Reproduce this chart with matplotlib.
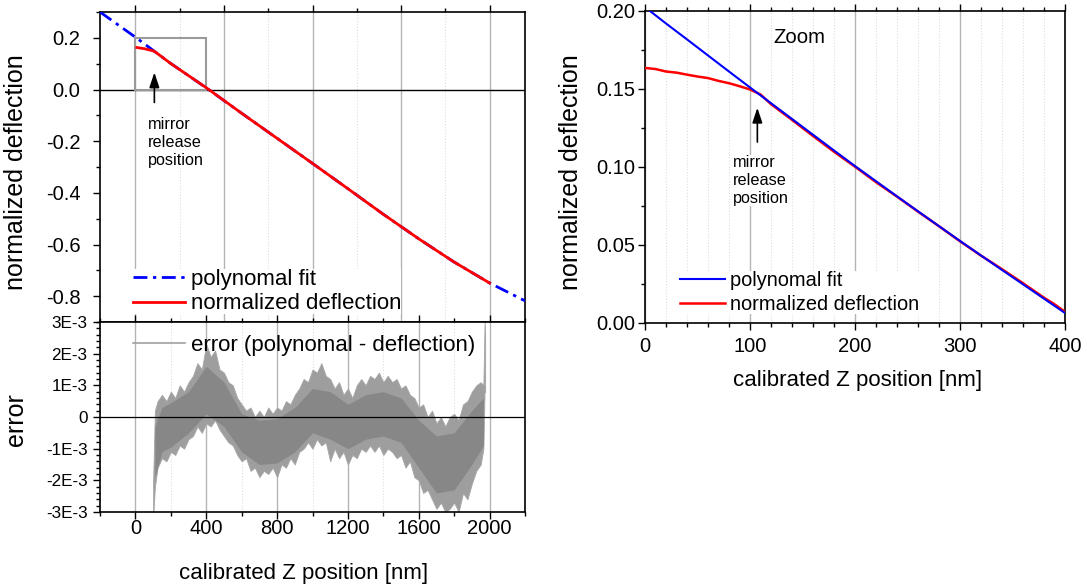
import numpy as np
import matplotlib
matplotlib.use("Agg")
import matplotlib.pyplot as plt
from matplotlib.patches import Rectangle
from matplotlib.ticker import MultipleLocator

plt.rcParams["font.family"] = ["Liberation Sans", "DejaVu Sans"]
plt.rcParams["axes.unicode_minus"] = False

# Data #######################################################################

# full range: polynomial fit and measured deflection
fit_x = [-200, 0, 200, 400, 600, 800, 1000, 1200, 1400, 1600, 1800, 2000, 2200]
fit_y = [0.300, 0.2025, 0.1006, 0.0064, -0.092, -0.189, -0.286, -0.384,
         -0.483, -0.578, -0.668, -0.749, -0.818]
defl_x = [8, 50, 100, 110, 200, 400, 600, 800, 1000, 1200, 1400, 1600, 1800, 2000]
defl_y = [0.1625, 0.158, 0.1495, 0.1465, 0.1003, 0.0070, -0.092, -0.189,
          -0.286, -0.384, -0.483, -0.578, -0.668, -0.749]

# error band (polynomal - deflection), units of 1E-3
err_x = [100, 110, 125, 150, 175, 200, 225, 250, 275, 300, 325, 350, 375, 400,
         425, 450, 475, 500, 525, 550, 575, 600, 625, 650, 675, 700, 725, 750,
         775, 800, 825, 850, 875, 900, 925, 950, 975, 1000, 1025, 1050, 1075,
         1100, 1125, 1150, 1175, 1200, 1225, 1250, 1275, 1300, 1325, 1350,
         1375, 1400, 1425, 1450, 1475, 1500, 1525, 1550, 1575, 1600, 1625,
         1650, 1675, 1700, 1725, 1750, 1775, 1800, 1825, 1850, 1875, 1900,
         1925, 1950, 1965, 1972, 1975]
err_hi = [-2.0, 0.2, 0.5, 0.7, 0.5, 0.8, 0.6, 1.0, 0.8, 1.1, 1.3, 1.7, 1.5, 2.3,
          1.9, 2.1, 1.5, 1.4, 1.1, 1.0, 0.6, 0.4, 0.2, 0.3, 0.0, 0.2, 0.0, 0.3,
          0.1, 0.3, 0.2, 0.5, 0.4, 0.7, 0.9, 1.2, 1.1, 1.5, 1.4, 1.7, 1.3,
          1.2, 0.9, 1.1, 0.7, 0.9, 0.6, 1.0, 1.2, 1.0, 1.3, 1.2,
          1.4, 1.1, 1.3, 1.1, 1.2, 0.9, 1.0, 0.7, 0.6, 0.3, 0.4,
          0.0, 0.2, -0.2, 0.0, -0.3, 0.0, 0.1, -0.1, 0.4, 0.5, 0.8,
          1.0, 1.1, 1.0, 3.1, 2.5]
err_lo = [-3.2, -2.2, -1.6, -1.3, -1.4, -1.1, -1.2, -0.9, -1.0, -0.7, -0.6, -0.3,
          -0.5, -0.2, -0.3, -0.1, -0.4, -0.6, -0.8, -0.9, -1.2, -1.4, -1.3, -1.7,
          -1.6, -1.9, -1.7, -1.8, -1.6, -1.9, -1.5, -1.6, -1.3, -1.5, -1.1, -1.0,
          -0.8, -1.0, -0.7, -0.9, -0.8, -1.4, -1.0, -1.3, -1.1, -1.5, -1.2, -1.3,
          -1.0, -1.1, -0.9, -1.1, -0.9, -1.2, -1.0, -1.1, -1.3, -1.2, -1.6, -1.4,
          -1.9, -2.0, -2.4, -2.3, -2.6, -2.9, -2.7, -3.0, -2.9, -2.7, -3.0, -2.4,
          -2.6, -2.1, -1.7, -1.5, -1.0, 0.9, 0.8]
core_x = [110, 150, 200, 300, 400, 500, 600, 700, 800, 900, 1000, 1100, 1200,
          1300, 1400, 1500, 1600, 1700, 1800, 1900, 1965]
core_hi = [-0.3, 0.3, 0.45, 0.8, 1.6, 1.1, 0.1, -0.1, -0.05, 0.3, 0.9, 0.8, 0.4,
           0.7, 0.8, 0.6, -0.1, -0.6, -0.5, 0.2, 0.6]
core_lo = [-1.9, -1.1, -0.95, -0.5, 0.1, -0.3, -1.1, -1.5, -1.45, -1.1, -0.5,
           -0.7, -1.0, -0.7, -0.6, -0.8, -1.6, -2.4, -2.3, -1.5, -0.9]

# zoomed range 0..400 nm
zfit_x = [0, 20, 40, 60, 80, 100, 120, 140, 160, 180, 200, 220, 240, 260, 280,
          300, 320, 340, 360, 380, 400]
zfit_y = [0.2025, 0.192, 0.1818, 0.1715, 0.1612, 0.151, 0.1409, 0.1308, 0.1207,
          0.1106, 0.1006, 0.0909, 0.0812, 0.0716, 0.0621, 0.0526, 0.0433,
          0.034, 0.0248, 0.0156, 0.0064]
zdefl_x = [0, 10, 20, 30, 40, 50, 60, 70, 80, 90, 100, 110, 120, 140, 160, 180,
           200, 220, 240, 260, 280, 300, 320, 340, 360, 380, 390, 400]
zdefl_y = [0.1635, 0.1628, 0.1612, 0.1605, 0.1592, 0.1580, 0.1570, 0.1552,
           0.1537, 0.1518, 0.1497, 0.1465, 0.1403, 0.1302, 0.1199, 0.1098,
           0.1002, 0.0903, 0.0810, 0.0714, 0.0620, 0.0524, 0.0432, 0.0345,
           0.0255, 0.0162, 0.0120, 0.0072]

err_ticks = [-3, -2, -1, 0, 1, 2, 3]
err_tick_labels = ["-3E-3", "-2E-3", "-1E-3", "0", "1E-3", "2E-3", "3E-3"]

# Figure #####################################################################

W, H = 1087, 586
fig = plt.figure(figsize=(W / 100, H / 100), dpi=100)

def box(l, t, r, b):
    return [l / W, 1 - b / H, (r - l) / W, (b - t) / H]

ax1 = fig.add_axes(box(100, 12, 525, 322))
ax2 = fig.add_axes(box(100, 322, 525, 512))
ax3 = fig.add_axes(box(645, 11, 1065, 323))

BLUE = "#0000ff"
RED = "#ff0000"
GRID = "#b4b4b4"
MINGRID = "#dedede"

for ax in (ax1, ax2, ax3):
    for s in ax.spines.values():
        s.set_linewidth(1.2)
    ax.tick_params(which="both", direction="out", top=True, right=False,
                   width=1.0, labelsize=14.5)
    ax.tick_params(which="major", length=5)
    ax.tick_params(which="minor", length=3)

# 1. Top left: deflection + fit ##############################################

ax1.set_xlim(-200, 2200)
ax1.set_ylim(-0.9, 0.3)
ax1.xaxis.set_major_locator(MultipleLocator(500))
ax1.xaxis.set_minor_locator(MultipleLocator(250))
ax1.yaxis.set_minor_locator(MultipleLocator(0.1))
ax1.set_yticks([-0.8, -0.6, -0.4, -0.2, 0.0, 0.2])
ax1.set_yticklabels(["-0.8", "-0.6", "-0.4", "-0.2", "0.0", "0.2"])
ax1.tick_params(axis="x", which="both", bottom=False, labelbottom=False)
ax1.tick_params(axis="y", pad=9)
ax1.grid(True, axis="x", which="major", color=GRID, lw=1.0, zorder=0)
ax1.grid(True, axis="x", which="minor", color=MINGRID, lw=0.8, ls=":", zorder=0)
ax1.axhline(0, color="black", lw=1.0, zorder=2)
ax1.add_patch(Rectangle((0, 0), 400, 0.2, fill=False, edgecolor="#9a9a9a",
                        lw=1.5, zorder=2))
ax1.plot(fit_x, fit_y, color=BLUE, lw=2.0, ls=(0, (5, 2, 1.2, 2)),
         label="polynomal fit", zorder=3)
ax1.plot(defl_x, defl_y, color=RED, lw=2.0, label="normalized deflection",
         zorder=4)
ax1.annotate("", xy=(107, 0.066), xytext=(107, -0.05),
             arrowprops=dict(arrowstyle="-|>,head_length=0.9,head_width=0.3",
                             color="black", lw=1.2, shrinkA=0, shrinkB=0))
ax1.text(68, -0.108, "mirror\nrelease\nposition", fontsize=11.7, va="top",
         ha="left", linespacing=1.25,
         bbox=dict(facecolor="white", edgecolor="none", pad=0))
ax1.set_ylabel("normalized deflection", fontsize=18)
ax1.yaxis.set_label_coords(-0.169, 0.484)
ax1.legend(loc="upper left", bbox_to_anchor=(0.078, 0.171),
           borderaxespad=0, borderpad=0, fontsize=16,
           handlelength=2.35, handletextpad=0.25, labelspacing=0.15,
           frameon=True, fancybox=False, framealpha=1,
           edgecolor="none", facecolor="white")

# 2. Bottom left: error ######################################################

ax2.set_xlim(-200, 2200)
ax2.set_ylim(-3, 3)
ax2.xaxis.set_major_locator(MultipleLocator(400))
ax2.xaxis.set_minor_locator(MultipleLocator(200))
ax2.set_yticks(err_ticks)
ax2.set_yticklabels(err_tick_labels)
ax2.yaxis.set_minor_locator(MultipleLocator(0.2))
ax2.tick_params(axis="y", labelsize=12.3, pad=4)
ax2.tick_params(axis="x", pad=0)
ax2.tick_params(axis="x", which="both", labeltop=False)
ax2.grid(True, axis="x", which="major", color=GRID, lw=1.0, zorder=0)
ax2.grid(True, axis="x", which="minor", color=MINGRID, lw=0.8, ls=":", zorder=0)
ax2.fill_between(err_x, err_lo, err_hi, color="#9e9e9e", lw=0.6,
                 edgecolor="#a6a6a6", zorder=2)
ax2.fill_between(core_x, core_lo, core_hi, color="#878787", lw=0, zorder=3)
ax2.plot([], [], color="#a0a0a0", lw=1.2,
         label="error (polynomal - deflection)")
ax2.axhline(0, color="black", lw=0.9, zorder=4)
ax2.set_ylabel("error", fontsize=18)
ax2.yaxis.set_label_coords(-0.169, 0.484)
ax2.set_xlabel("calibrated Z position [nm]", fontsize=16)
ax2.xaxis.set_label_coords(0.478, -0.268)
ax2.legend(loc="upper left", bbox_to_anchor=(0.078, 0.931), borderaxespad=0,
           borderpad=0, fontsize=16, handlelength=2.35, handletextpad=0.25,
           frameon=False)

# 3. Right: zoom #############################################################

ax3.set_xlim(0, 400)
ax3.set_ylim(0, 0.2)
ax3.xaxis.set_major_locator(MultipleLocator(100))
ax3.xaxis.set_minor_locator(MultipleLocator(20))
ax3.yaxis.set_minor_locator(MultipleLocator(0.025))
ax3.set_yticks([0, 0.05, 0.10, 0.15, 0.20])
ax3.set_yticklabels(["0.00", "0.05", "0.10", "0.15", "0.20"])
ax3.tick_params(axis="y", pad=2)
ax3.tick_params(axis="x", pad=5)
ax3.grid(True, axis="x", which="major", color=GRID, lw=1.0, zorder=0)
ax3.grid(True, axis="x", which="minor", color=MINGRID, lw=0.8, ls=":", zorder=0)
ax3.plot(zdefl_x, zdefl_y, color=RED, lw=1.8, zorder=3,
         label="normalized deflection")
ax3.plot(zfit_x, zfit_y, color=BLUE, lw=1.5, zorder=4, label="polynomal fit")
ax3.annotate("", xy=(107, 0.138), xytext=(107, 0.116),
             arrowprops=dict(arrowstyle="-|>,head_length=0.9,head_width=0.3",
                             color="black", lw=1.2, shrinkA=0, shrinkB=0))
ax3.text(84, 0.108, "mirror\nrelease\nposition", fontsize=11.7, va="top",
         ha="left", linespacing=1.25,
         bbox=dict(facecolor="white", edgecolor="none", pad=0))
ax3.text(122, 0.183, "Zoom", fontsize=14.6, va="center", ha="left")
ax3.set_ylabel("normalized deflection", fontsize=18)
ax3.yaxis.set_label_coords(-0.148, 0.484)
ax3.set_xlabel("calibrated Z position [nm]", fontsize=16)
ax3.xaxis.set_label_coords(0.505, -0.151)
h, l = ax3.get_legend_handles_labels()
ax3.legend(h[::-1], l[::-1], loc="upper left", bbox_to_anchor=(0.083, 0.166),
           borderaxespad=0, borderpad=0, fontsize=14.4, handlelength=2.25,
           handletextpad=0.25, labelspacing=0.25, frameon=True, fancybox=False,
           framealpha=1, edgecolor="none", facecolor="white")

fig.savefig("out.png", dpi=100)
